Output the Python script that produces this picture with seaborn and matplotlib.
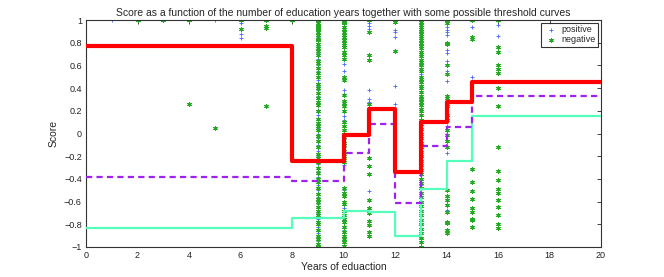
import numpy as np
import matplotlib
matplotlib.use('Agg')
import matplotlib.pyplot as plt
import pandas as pd
import seaborn as sns

# scores per education year
years = [1, 2, 3, 4, 5, 6, 7, 8, 9, 10, 11, 12, 13, 14, 15, 16]

pos_scores = {
    1: [1.0],
    4: [1.0],
    5: [1.0],
    6: [1.0, 0.97, 0.88, 0.84],
    7: [1.0],
    9: [1.0, 0.98, 0.96, 0.93, 0.9, 0.88, 0.85, 0.8, 0.77, 0.71, 0.66, 0.6, 0.55, 0.47, 0.42,
        0.38, 0.33, 0.3, 0.27, 0.21, 0.16, 0.1, 0.05, 0.0, -0.04, -0.1, -0.15, -0.2, -0.27,
        -0.33, -0.38, -0.45, -0.5, -0.56, -0.62, -0.7, -0.75, -0.82, -0.88, -0.95],
    10: [1.0, 0.95, 0.9, 0.84, 0.61, 0.555, 0.38, 0.35, 0.15, 0.12, -0.05, -0.12, -0.28,
         -0.5, -0.66, -0.85],
    11: [0.97, 0.95, 0.92, 0.38, 0.3, 0.28, -0.51],
    12: [0.91, 0.89, 0.85, 0.42, 0.26],
    13: [0.97, 0.9, 0.78, 0.6, 0.52, 0.3, 0.15, -0.05, -0.2, -0.45, -0.6, -0.8, -0.92],
    14: [1.0, 0.94, 0.91, 0.89, 0.87, 0.74, 0.71, 0.64, 0.55, 0.46, 0.29, 0.07, -0.175, -0.67],
    15: [0.94, 0.5],
    16: [0.96, 0.855],
}

neg_scores = {
    2: [1.0],
    3: [1.0],
    4: [1.0, 0.26],
    5: [0.05],
    6: [1.0, 0.92],
    7: [1.0, 0.95, 0.93, 0.24],
    8: [1.0],
    9: [1.0, 0.99, 0.97, 0.95, 0.94, 0.92, 0.91, 0.89, 0.87, 0.83, 0.82, 0.79, 0.75, 0.73,
        0.69, 0.64, 0.62, 0.58, 0.53, 0.5, 0.44, 0.4, 0.36, 0.31, 0.28, 0.25, 0.2, 0.13,
        0.09, 0.07, 0.03, -0.02, -0.07, -0.12, -0.18, -0.22, -0.25, -0.3, -0.35, -0.4,
        -0.43, -0.48, -0.53, -0.58, -0.6, -0.65, -0.68, -0.72, -0.78, -0.8, -0.85, -0.9,
        -0.93, -0.97, -1.0],
    10: [1.0, 0.98, 0.97, 0.94, 0.92, 0.89, 0.87, 0.85, 0.82, 0.8, 0.78, 0.76, 0.72, 0.69,
         0.66, 0.5, 0.47, 0.34, 0.29, 0.27, 0.245, 0.2, 0.1, 0.07, 0.03, 0.0, -0.03, -0.08,
         -0.1, -0.15, -0.18, -0.22, -0.25, -0.48, -0.52, -0.55, -0.6, -0.62, -0.68, -0.72,
         -0.75, -0.78, -0.82, -0.87, -0.9, -0.93, -0.96, -0.99],
    11: [1.0, 0.89, 0.69, 0.65, 0.26, -0.22, -0.29, -0.36, -0.59, -0.66, -0.7, -0.77,
         -0.81, -0.87, -0.9],
    12: [1.0, 0.98, 0.73],
    13: [1.0, 0.98, 0.96, 0.94, 0.92, 0.9, 0.88, 0.86, 0.84, 0.82, 0.8, 0.77, 0.75, 0.72,
         0.7, 0.68, 0.65, 0.63, 0.6, 0.57, 0.55, 0.5, 0.48, 0.45, 0.42, 0.4, 0.37, 0.33,
         0.3, 0.28, 0.25, 0.22, 0.2, 0.16, 0.12, 0.08, 0.04, 0.0, -0.04, -0.08, -0.12,
         -0.16, -0.2, -0.24, -0.28, -0.32, -0.36, -0.4, -0.44, -0.48, -0.52, -0.56, -0.6,
         -0.64, -0.68, -0.72, -0.76, -0.8, -0.84, -0.88, -0.92, -0.96, -1.0],
    14: [1.0, 0.97, 0.8, 0.79, 0.6, 0.52, 0.33, 0.31, 0.26, 0.24, 0.16, 0.12, 0.03, -0.01,
         -0.07, -0.12, -0.5, -0.55, -0.59, -0.63, -0.69, -0.78, -0.79, -0.85, -0.88],
    15: [1.0, 0.85, 0.83, -0.31, -0.43, -0.51, -0.58, -0.66, -0.69, -0.75, -0.76, -0.82],
    16: [1.0, 0.76, 0.72, 0.6, 0.57, 0.53, 0.405, 0.245, -0.117, -0.33, -0.41, -0.49,
         -0.52, -0.59, -0.65, -0.72, -0.8, -0.83],
}

# threshold curves (step values, held until next break)
step_x = [0, 8, 10, 11, 12, 13, 14, 15, 20]
thr_red = [0.767, -0.24, -0.013, 0.219, -0.343, 0.099, 0.276, 0.452, 0.452]
thr_purple = [-0.384, -0.417, -0.17, 0.081, -0.61, -0.11, 0.06, 0.329, 0.329]
thr_cyan = [-0.835, -0.746, -0.682, -0.693, -0.905, -0.493, -0.243, 0.157, 0.157]

x_ticks = [0, 2, 4, 6, 8, 10, 12, 14, 16, 18, 20]
y_ticks = [-1, -0.8, -0.6, -0.4, -0.2, 0, 0.2, 0.4, 0.6, 0.8, 1]
y_ticklabels = ['\u22121', '\u22120.8', '\u22120.6', '\u22120.4', '\u22120.2', '0',
                '0.2', '0.4', '0.6', '0.8', '1']

# long frames for seaborn
pos_df = pd.DataFrame([(yr, s) for yr in years for s in pos_scores.get(yr, [])],
                      columns=['years', 'score'])
neg_df = pd.DataFrame([(yr, s) for yr in years for s in neg_scores.get(yr, [])],
                      columns=['years', 'score'])
thr_df = pd.DataFrame({'x': step_x, 'red': thr_red, 'purple': thr_purple, 'cyan': thr_cyan})

sns.set_style('white')
plt.rcParams['font.family'] = ['Liberation Sans', 'DejaVu Sans']

fig = plt.figure(figsize=(6.64, 2.77), dpi=100)
ax = fig.add_axes([86/664, 30/277, 515/664, 227/277])

sns.scatterplot(data=pos_df, x='years', y='score', marker='+', color='#4466ff',
                s=10, linewidth=0.6, ax=ax, label='positive', zorder=2)
sns.scatterplot(data=neg_df, x='years', y='score', marker=(6, 2, 0), color='#22aa22',
                s=7, linewidth=0.8, ax=ax, label='negative', zorder=2)

sns.lineplot(data=thr_df, x='x', y='cyan', color='#55ffbb', linewidth=1.6,
             drawstyle='steps-post', estimator=None, ax=ax, zorder=3)
sns.lineplot(data=thr_df, x='x', y='purple', color='#a020f0', linewidth=1.6,
             linestyle=(0, (2.8, 1.9)), drawstyle='steps-post', estimator=None, ax=ax, zorder=4)
sns.lineplot(data=thr_df, x='x', y='red', color='#ff0000', linewidth=3.0,
             drawstyle='steps-post', estimator=None, ax=ax, zorder=5)

ax.set_xlim(0, 20)
ax.set_ylim(-1, 1)
ax.set_xticks(x_ticks)
ax.set_yticks(y_ticks)
ax.set_yticklabels(y_ticklabels)
ax.tick_params(direction='in', top=True, right=True, length=3, width=0.6,
               labelsize=6.5, colors='#222222', pad=3)
for sp in ax.spines.values():
    sp.set_color('#333333')
    sp.set_linewidth(0.8)

ax.set_title('Score as a function of the number of education years together with some possible threshold curves',
             fontsize=7.5, pad=3)
ax.set_xlabel('Years of eduaction', fontsize=7.5, labelpad=1)
ax.set_ylabel('Score', fontsize=7.5, labelpad=4)

leg = ax.legend(loc='upper right', fontsize=6.5, frameon=True, fancybox=False,
                borderaxespad=0.3, handletextpad=0.4, borderpad=0.3, labelspacing=0.1,
                handlelength=1.5, markerscale=1.0)
leg.get_frame().set_edgecolor('black')
leg.get_frame().set_linewidth(0.8)

fig.savefig('out.png', dpi=100)
